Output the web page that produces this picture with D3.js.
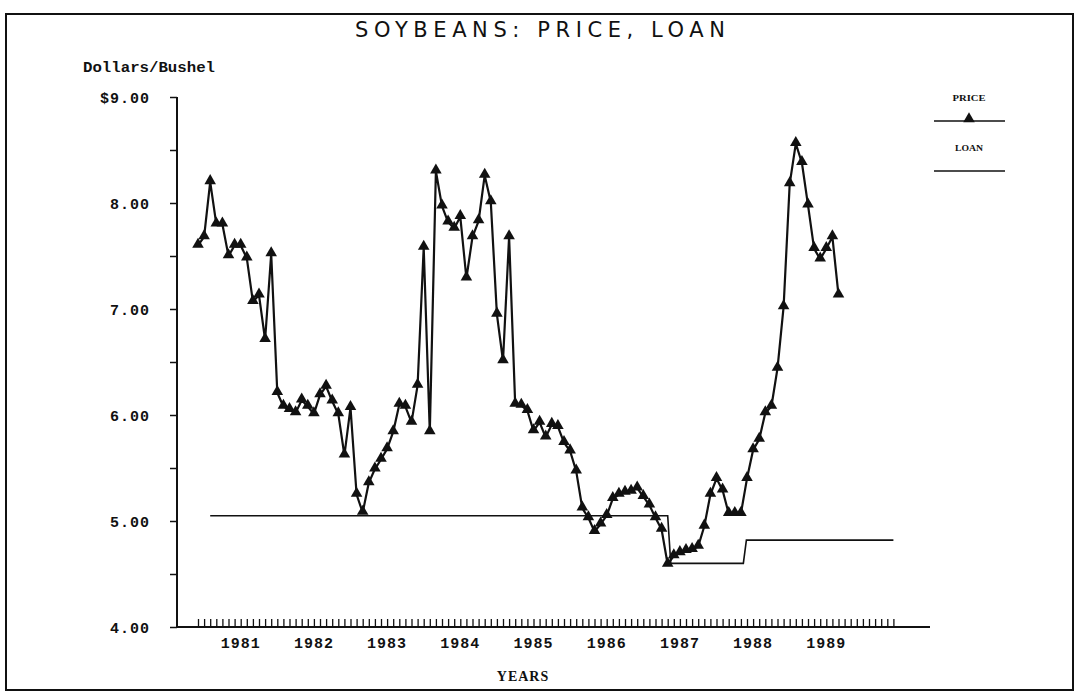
<!DOCTYPE html>
<html><head><meta charset="utf-8">
<script src="https://cdn.jsdelivr.net/npm/d3@7/dist/d3.min.js"></script>
<style>body{margin:0;background:#fff;}svg{display:block;}</style>
</head><body>
<svg id="chart" width="1079" height="696"></svg>
<script>
// ---- data ----
// monthly farm price, $/bushel, one value per month starting at month index 0
const price = [
  7.60, 7.68, 8.20, 7.80, 7.80, 7.50, 7.60, 7.60, 7.48, 7.07,
  7.13, 6.71, 7.52, 6.21, 6.08, 6.05, 6.02, 6.14, 6.08, 6.01,
  6.19, 6.27, 6.13, 6.01, 5.62, 6.07, 5.25, 5.08, 5.36, 5.49,
  5.58, 5.68, 5.84, 6.10, 6.08, 5.93, 6.28, 7.58, 5.84, 8.30,
  7.97, 7.82, 7.76, 7.87, 7.29, 7.68, 7.83, 8.26, 8.01, 6.95,
  6.51, 7.68, 6.10, 6.09, 6.04, 5.85, 5.93, 5.79, 5.91, 5.89,
  5.74, 5.66, 5.47, 5.12, 5.03, 4.90, 4.97, 5.05, 5.21, 5.25,
  5.27, 5.28, 5.31, 5.23, 5.15, 5.03, 4.92, 4.59, 4.67, 4.70,
  4.72, 4.73, 4.76, 4.95, 5.25, 5.40, 5.29, 5.07, 5.07, 5.07,
  5.40, 5.67, 5.77, 6.02, 6.08, 6.44, 7.02, 8.18, 8.56, 8.38,
  7.98, 7.57, 7.47, 7.57, 7.68, 7.13
];
// loan rate periods (month index range and rate)
const loanFrom  = [2, 77.5, 89.9];
const loanTo    = [77, 89.4, 114];
const loanRate  = [5.05, 4.60, 4.82];
// x axis
const lastTickMonth = 114;
const yearLabels = ["1981","1982","1983","1984","1985","1986","1987","1988","1989"];
const yearLabelMonth = [7, 19, 31, 43, 55, 67, 79, 91, 103];
// y axis
const yTickValues = [4, 4.5, 5, 5.5, 6, 6.5, 7, 7.5, 8, 8.5, 9];
const yTickLabels = {4:"4.00", 5:"5.00", 6:"6.00", 7:"7.00", 8:"8.00", 9:"$9.00"};

// ---- drawing ----
const svg = d3.select("#chart");
const mono = "'Liberation Mono', 'DejaVu Sans Mono', monospace";

const x = d3.scaleLinear().domain([0, lastTickMonth]).range([198, 893.4]);
const y = d3.scaleLinear().domain([4, 9]).range([627, 97]);

// frame
svg.append("rect").attr("x", 6).attr("y", 14).attr("width", 1067).attr("height", 676)
  .attr("fill", "none").attr("stroke", "#111").attr("stroke-width", 2);

// title
svg.append("text").attr("x", 540).attr("y", 37).attr("text-anchor", "middle")
  .attr("font-family", "'DejaVu Sans', sans-serif").attr("font-size", 21)
  .attr("textLength", 370).attr("lengthAdjust", "spacing")
  .attr("fill", "#111").text("SOYBEANS: PRICE, LOAN");

// y title
svg.append("text").attr("x", 83).attr("y", 72)
  .attr("font-family", mono).attr("font-weight", "bold").attr("font-size", 14)
  .attr("textLength", 132).attr("lengthAdjust", "spacingAndGlyphs")
  .attr("fill", "#111").text("Dollars/Bushel");

// y axis
const yAxis = d3.axisLeft(y).tickValues(yTickValues).tickSize(7).tickPadding(20)
  .tickFormat(d => yTickLabels[d] || "");
const gy = svg.append("g").attr("transform", "translate(177,0)").call(yAxis);
gy.select(".domain").attr("stroke", "#111").attr("stroke-width", 2).attr("d", "M0,97V627");
gy.selectAll(".tick line").attr("stroke", "#111").attr("stroke-width", 1.5);
gy.selectAll(".tick text").attr("font-family", mono).attr("font-weight", "bold")
  .attr("font-size", 15).attr("fill", "#111").attr("dy", "0.35em")
  .attr("letter-spacing", 1);

// x axis
const xAxis = d3.axisBottom(x).tickValues(d3.range(0, lastTickMonth + 1)).tickSize(-8)
  .tickFormat("");
const gx = svg.append("g").attr("transform", "translate(0,627)").call(xAxis);
gx.select(".domain").attr("stroke", "#111").attr("stroke-width", 2).attr("d", "M177,0H930");
gx.selectAll(".tick line").attr("stroke", "#111").attr("stroke-width", 1.3);

svg.append("g").selectAll("text").data(yearLabels).join("text")
  .attr("x", (d, i) => x(yearLabelMonth[i])).attr("y", 648).attr("text-anchor", "middle")
  .attr("font-family", mono).attr("font-weight", "bold").attr("font-size", 15)
  .attr("letter-spacing", 1).attr("fill", "#111").text(d => d);

svg.append("text").attr("x", 523).attr("y", 681).attr("text-anchor", "middle")
  .attr("font-family", "'Liberation Serif', serif").attr("font-weight", "bold").attr("font-size", 14)
  .attr("letter-spacing", 1).attr("fill", "#111").text("YEARS");

// loan line
const loanPts = [];
loanFrom.forEach((f, i) => { loanPts.push([f, loanRate[i]]); loanPts.push([loanTo[i], loanRate[i]]); });
const line = d3.line().x(d => x(d[0])).y(d => y(d[1]));
svg.append("path").attr("d", line(loanPts)).attr("fill", "none")
  .attr("stroke", "#111").attr("stroke-width", 1.6);

// price line
const pricePts = price.map((v, i) => [i, v]);
svg.append("path").attr("d", line(pricePts)).attr("fill", "none")
  .attr("stroke", "#111").attr("stroke-width", 2.2).attr("stroke-linejoin", "round");

const tri = d3.symbol().type(d3.symbolTriangle).size(58);
svg.append("g").selectAll("path").data(pricePts).join("path")
  .attr("transform", d => `translate(${x(d[0])},${y(d[1]) - 1})`)
  .attr("d", tri).attr("fill", "#111");

// legend
const lg = svg.append("g");
lg.append("text").attr("x", 969).attr("y", 101).attr("text-anchor", "middle")
  .attr("font-family", "'Liberation Serif', serif").attr("font-weight", "bold").attr("font-size", 8)
  .attr("textLength", 33).attr("lengthAdjust", "spacingAndGlyphs").attr("fill", "#111").text("PRICE");
lg.append("line").attr("x1", 934).attr("x2", 1005).attr("y1", 121).attr("y2", 121)
  .attr("stroke", "#111").attr("stroke-width", 1.6);
lg.append("path").attr("transform", "translate(969,119)").attr("d", tri).attr("fill", "#111");
lg.append("text").attr("x", 969).attr("y", 151).attr("text-anchor", "middle")
  .attr("font-family", "'Liberation Serif', serif").attr("font-weight", "bold").attr("font-size", 8)
  .attr("textLength", 28).attr("lengthAdjust", "spacingAndGlyphs").attr("fill", "#111").text("LOAN");
lg.append("line").attr("x1", 934).attr("x2", 1005).attr("y1", 171).attr("y2", 171)
  .attr("stroke", "#111").attr("stroke-width", 1.6);
</script>
</body></html>
